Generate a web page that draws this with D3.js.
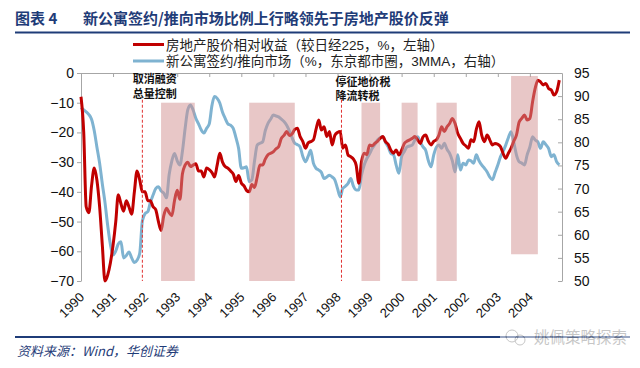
<!DOCTYPE html>
<html><head><meta charset="utf-8">
<script src="https://cdn.jsdelivr.net/npm/d3@7/dist/d3.min.js"></script>
<style>
body{margin:0;background:#fff;}
svg{display:block;}
</style></head>
<body>
<svg id="c" width="640" height="368"></svg>
<script>
// ---------- data ----------
const startMonth = "1990-01";
const years = ["1990","1991","1992","1993","1994","1995","1996","1997","1998","1999","2000","2001","2002","2003","2004"];
const leftTicks = [0,-10,-20,-30,-40,-50,-60,-70];
const rightTicks = [95,90,85,80,75,70,65,60,55,50];
// relative return of real estate stocks vs Nikkei 225 (%, left axis), monthly from 1990-01
const redValues = [
 -8,-20,-45,-47,-38,-32,-36,-45,-58,-70,-68,-64,
 -58,-50,-41,-44,-46.5,-43,-45,-47.5,-40,-33,-36,-40,
 -40,-43,-43,-45,-46,-50,-53,-48,-45.5,-47,-48,-43,
 -39.5,-42.5,-34,-31,-30,-31.5,-31,-30.5,-33,-33,-35,-32,
 -32.5,-33.5,-35,-31,-27,-30,-31.5,-32,-33,-34,-36.5,-34.5,
 -37,-38,-39.5,-40,-37.5,-38.5,-35,-31,-31,-29,-27.5,-27,
 -26.5,-25.5,-24.8,-22,-21,-19.7,-21,-20.5,-19,-18.6,-21.4,-23,
 -25.3,-23.5,-23.1,-22.5,-19,-15.8,-19.2,-18.1,-21.4,-19.7,-24.2,-21,
 -20,-19.7,-25.3,-24.2,-27.6,-28.2,-29,-31,-37.1,-29.8,-27,-27.5,
 -24.2,-24.5,-23.7,-23,-22,-21.4,-23.1,-24,-26,-27,-25.9,-27.6,
 -26,-23.7,-23,-22.5,-22,-21.4,-22.5,-23.7,-21.5,-20.9,-23,-24.2,
 -23,-22.5,-20.9,-18.1,-19.7,-18.1,-17,-15.3,-17,-20.3,-22,-23.7,
 -24.5,-25.3,-22.5,-23.1,-19,-16.4,-20.9,-23.1,-20.9,-22.5,-24.2,-23.7,
 -24,-24.8,-27,-28.7,-27,-25.3,-23,-20.9,-16.5,-15.3,-14.1,-15.8,
 -15.3,-9.7,-5.2,-2.4,-3,-4,-3.5,-5.2,-5.7,-7.4,-6.3,-2.4
];
// new condo contracts / units launched (%, Tokyo metro area, 3MMA, right axis), monthly from 1990-01
const blueValues = [
 87.5,87,86.6,86,85,82.5,79,75.5,71,67,62,58,
 55.6,56.5,58,58.5,55,55.5,56.3,55,54,54.5,56,63,
 64.6,65,67,68.6,70,70.4,69.5,69,68,73,76,77.6,
 76,75.1,78,83,87,88.1,87,85.2,84,82.7,82,83,
 84,88,89.9,89.5,88.5,86.5,85.2,84,83.7,83,81,78.7,
 74.4,74.5,74.7,71.5,71.9,76,79.4,79.8,80.1,82.5,84.1,85,
 85.9,85.7,85.5,85,84.5,83.7,82.5,81,79.8,79.5,79,77,
 75.8,77,78.3,75.5,74.4,74,73.5,72.2,72.5,72.9,72.5,71.9,
 70,68.2,70,70.5,71.1,72.2,70.5,69.7,69.7,72.9,75.1,76.5,
 77.5,78.7,79.5,80.5,81,81.2,80,79,77.6,77.3,75,73.3,
 76.9,78,79,79.2,79.4,80.5,81.2,80,79,78.3,76,74.7,
 77.3,79,79.4,78.7,79.8,78.5,77.6,76,73.6,77.3,74,75.5,
 75.1,76.2,76,75.5,77.3,76,75.1,74.4,73.6,72.5,71.9,73.5,
 75.1,76.9,78,79.4,81,82.3,80.1,77.3,75.8,75.5,75.1,77.3,
 79,81.2,80.5,80.1,78.7,80.1,79.5,78.7,76.9,77.3,75.8,75.1
];
// shaded periods (left-axis value range)
const shadeStart = ["1992-07-01","1995-04-01","1998-10-01","2000-01-01","2001-02-01","2003-06-01"];
const shadeEnd   = ["1993-07-20","1996-09-01","1999-05-01","2000-07-01","2001-09-20","2004-04-01"];
const shadeTop    = [-10,-10,-10,-10,-10,-1];
const shadeBottom = [-70,-70,-70,-70,-70,-61];
// policy events
const eventDates = ["1991-12-01","1998-02-15"];
const eventLines1 = ["取消融资","停征地价税"];
const eventLines2 = ["总量控制","降流转税"];

const titleText = "图表 4";
const titleMain = "新公寓签约/推向市场比例上行略领先于房地产股价反弹";
const legendNames = ["房地产股价相对收益（较日经225，%，左轴）","新公寓签约/推向市场（%，东京都市圈，3MMA，右轴）"];
const sourceText = "资料来源：Wind，华创证券";
const watermark = "姚佩策略探索";

// ---------- layout ----------
const RED = "#c00000", BLUE = "#7fb3d1", NAVY = "#1f3c78";
const CN = "'Noto Sans CJK SC','Noto Sans',sans-serif";
const MIX = "'Liberation Sans','Noto Sans CJK SC',sans-serif";
const NUM = "'Liberation Sans',Arial,sans-serif";
const svg = d3.select("#c");
const X0 = 81, X1 = 562, Y0 = 73, Y1 = 281;

const parseM = d3.timeParse("%Y-%m");
const parseD = d3.timeParse("%Y-%m-%d");
const t0 = parseM(startMonth);
const x = d3.scaleTime().domain([t0, new Date(2005,0,1)]).range([X0, X1]);
const yL = d3.scaleLinear().domain([-70, 0]).range([Y1, Y0]);
const yR = d3.scaleLinear().domain([50, 95]).range([Y1, Y0]);

const red = redValues.map((v,i)=>({d:d3.timeMonth.offset(t0,i), v}));
const blue = blueValues.map((v,i)=>({d:d3.timeMonth.offset(t0,i), v}));

// title
svg.append("text").attr("x",15).attr("y",24).attr("fill",NAVY)
  .style("font-family",CN).style("font-weight","bold").style("font-size","15px")
  .text(titleText);
svg.append("text").attr("x",83).attr("y",24).attr("fill",NAVY)
  .style("font-family",CN).style("font-weight","bold").style("font-size","15px")
  .text(titleMain);
svg.append("line").attr("x1",15).attr("x2",630).attr("y1",32.5).attr("y2",32.5)
  .attr("stroke",NAVY).attr("stroke-width",2);

// legend
[RED, BLUE].forEach((c,i)=>{
  const yy = 44.5 + i*16.5;
  svg.append("line").attr("x1",133).attr("x2",164).attr("y1",yy).attr("y2",yy)
    .attr("stroke",c).attr("stroke-width",3);
  svg.append("text").attr("x",166).attr("y",yy+5).attr("fill","#222")
    .style("font-family",MIX).style("font-size","13.5px").text(legendNames[i]);
});

// axes
const axisColor = "#a6a6a6";
const gL = svg.append("g").attr("transform",`translate(${X0},0)`)
  .call(d3.axisLeft(yL).tickValues(leftTicks).tickSize(4).tickPadding(3).tickSizeOuter(0));
const gR = svg.append("g").attr("transform",`translate(${X1},0)`)
  .call(d3.axisRight(yR).tickValues(rightTicks).tickSize(0).tickPadding(12).tickSizeOuter(0));
gR.selectAll(".tick").append("line").attr("x1",-4).attr("x2",0).attr("stroke",axisColor);
const gT = svg.append("g").attr("transform",`translate(0,${yL(0)})`)
  .call(d3.axisBottom(x).tickValues(years.map(y=>parseM(y+"-01"))).tickSize(4).tickFormat("").tickSizeOuter(0));
[gL,gR,gT].forEach(g=>{
  g.select(".domain").attr("stroke",axisColor);
  g.selectAll(".tick line").attr("stroke",axisColor);
  g.selectAll("text").attr("fill","#111").style("font-family",NUM).style("font-size","14px");
});

// year labels at the bottom
svg.append("g").selectAll("text").data(years).join("text")
  .attr("transform",d=>`translate(${x(parseM(d+"-01"))+4},${298}) rotate(-45)`)
  .attr("text-anchor","end").attr("fill","#111")
  .style("font-family",NUM).style("font-size","13px").text(d=>d);

// lines
const lineL = d3.line().x(d=>x(d.d)).y(d=>yL(d.v)).curve(d3.curveMonotoneX);
const lineR = d3.line().x(d=>x(d.d)).y(d=>yR(d.v)).curve(d3.curveMonotoneX);
svg.append("path").datum(blue).attr("d",lineR).attr("fill","none")
  .attr("stroke",BLUE).attr("stroke-width",3).attr("stroke-linejoin","round");
svg.append("path").datum(red).attr("d",lineL).attr("fill","none")
  .attr("stroke",RED).attr("stroke-width",3).attr("stroke-linejoin","round");

// shaded periods (drawn over lines, translucent)
svg.append("g").selectAll("rect").data(shadeStart.map((s,i)=>i)).join("rect")
  .attr("x",i=>x(parseD(shadeStart[i])))
  .attr("width",i=>x(parseD(shadeEnd[i]))-x(parseD(shadeStart[i])))
  .attr("y",i=>yL(shadeTop[i]))
  .attr("height",i=>yL(shadeBottom[i])-yL(shadeTop[i]))
  .attr("fill","#d29090").attr("opacity",0.5);

// events
const evDx = [-9.5,-6], evDy = [0,2.5];
eventDates.forEach((d,i)=>{
  const xx = x(parseD(d));
  svg.append("line").attr("x1",xx).attr("x2",xx).attr("y1",yL(-9)).attr("y2",Y1)
    .attr("stroke","#e03030").attr("stroke-width",1).attr("stroke-dasharray","3,2");
  svg.append("text").attr("x",xx+evDx[i]).attr("y",83+evDy[i]).attr("fill","#111")
    .style("font-family",MIX).style("font-weight","bold").style("font-size","11px").text(eventLines1[i]);
  svg.append("text").attr("x",xx+evDx[i]).attr("y",97.5+evDy[i]).attr("fill","#111")
    .style("font-family",MIX).style("font-weight","bold").style("font-size","11px").text(eventLines2[i]);
});

// footer
svg.append("line").attr("x1",15).attr("x2",630).attr("y1",337).attr("y2",337)
  .attr("stroke",NAVY).attr("stroke-width",2);
svg.append("text").attr("x",17).attr("y",356).attr("fill",NAVY)
  .style("font-family",CN).style("font-style","italic").style("font-size","13px").text(sourceText);
const wm = svg.append("g").attr("opacity",0.55);
wm.append("rect").attr("x",500).attr("y",327).attr("width",130).attr("height",20).attr("fill","#fff");
wm.append("circle").attr("cx",512).attr("cy",336).attr("r",6).attr("fill","none").attr("stroke","#999");
wm.append("circle").attr("cx",520).attr("cy",340).attr("r",5).attr("fill","none").attr("stroke","#999");
wm.append("text").attr("x",534).attr("y",343).attr("fill","#999")
  .style("font-family",CN).style("font-size","15.5px").text(watermark);
</script>
</body></html>
